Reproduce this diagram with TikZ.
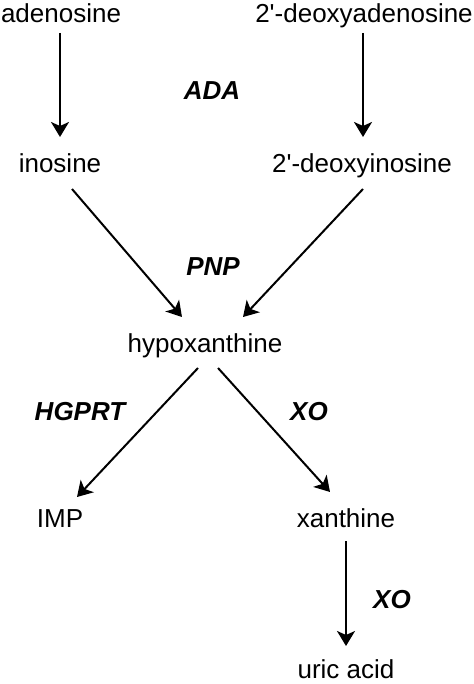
\documentclass[tikz,border=0pt]{standalone}
\usepackage{fontspec}
\setmainfont{Liberation Sans}
\usetikzlibrary{arrows.meta}
\newlength{\lw}
\setlength{\lw}{1pt}
\tikzstyle{every picture}+=[>={Stealth[length=7.5pt,width=9pt,inset=2pt]}]
\tikzstyle{every picture}+=[line width=\lw]
\tikzstyle{every picture}+=[x=0.5pt,y=-0.5pt]
\tikzstyle{mol}=[inner sep=0pt,outer sep=0pt,anchor=base]
\tikzstyle{mol}+=[font=\fontsize{13}{15}\selectfont]
\tikzstyle{enz}=[mol]
\tikzstyle{enz}+=[font=\fontsize{13}{15}\selectfont\bfseries\itshape]

\begin{document}
\begin{tikzpicture}
\useasboundingbox (0,0) rectangle (474,684);

\node[mol] (ado) at (61,23) {adenosine};
\node[mol] (dado) at (364,23) {2\textquotesingle-deoxyadenosine};
\node[mol] (ino) at (60,173) {inosine};
\node[mol] (dino) at (362,173) {2\textquotesingle-deoxyinosine};
\node[mol] (hyp) at (205,352) {hypoxanthine};
\node[mol] (imp) at (60,527) {IMP};
\node[mol] (xan) at (346,527) {xanthine};
\node[mol] (uric) at (346,678) {uric acid};

\node[enz] (ada) at (212,100) {ADA};
\node[enz] (pnp) at (213,275) {PNP};
\node[enz] (hgprt) at (80,420) {HGPRT};
\node[enz] (xo) at (309,420) {XO};
\node[enz] (xo2) at (392,608) {XO};

\path[->]
   ([shift={(-1,10)}]ado.base) edge ([shift={(0,-36)}]ino.base)
   ([shift={(-1,10)}]dado.base) edge ([shift={(1,-36)}]dino.base)
   ([shift={(12,16)}]ino.base) edge ([shift={(-23,-35)}]hyp.base)
   ([shift={(1,16)}]dino.base) edge ([shift={(38,-35)}]hyp.base)
   ([shift={(-7,16)}]hyp.base) edge ([shift={(17,-30)}]imp.base)
   ([shift={(13,16)}]hyp.base) edge ([shift={(-16,-35)}]xan.base)
   ([shift={(0,14)}]xan.base) edge ([shift={(0,-32)}]uric.base)
;
\end{tikzpicture}
\end{document}
